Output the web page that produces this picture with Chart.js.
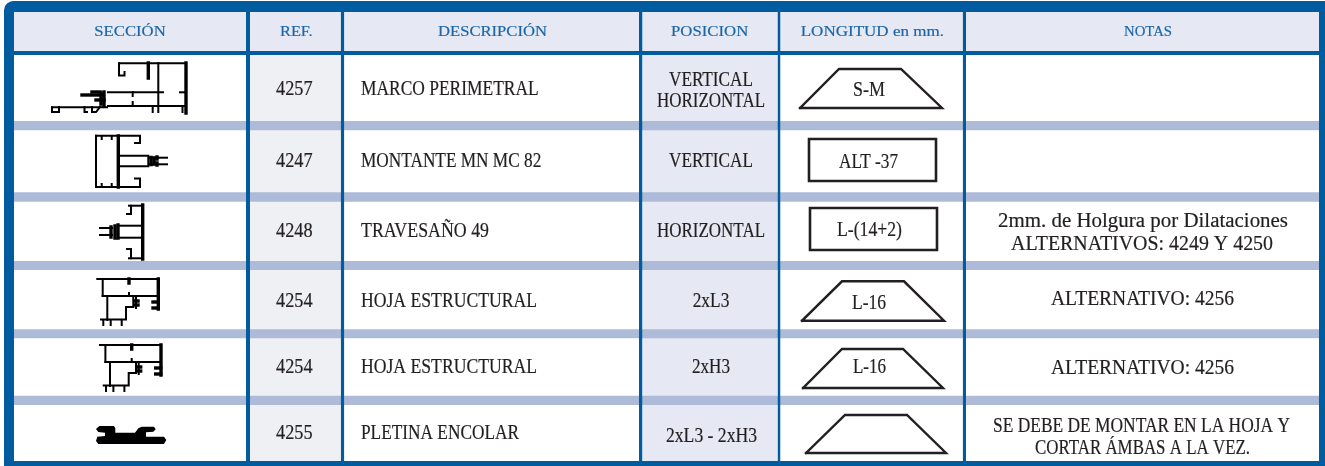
<!DOCTYPE html>
<html><head><meta charset="utf-8">
<style>html,body{margin:0;padding:0;background:#fff;overflow:hidden}canvas{display:block;filter:blur(.3px)}</style>
<script src="https://cdn.jsdelivr.net/npm/chart.js@4"></script></head>
<body><canvas id="c" width="1325" height="466"></canvas>
<script>
// ---- table content ----
const headers = ["SECCIÓN","REF.","DESCRIPCIÓN","POSICION","LONGITUD en mm.","NOTAS"];
const refs = ["4257","4247","4248","4254","4254","4255"];
const descriptions = ["MARCO PERIMETRAL","MONTANTE MN MC 82","TRAVESAÑO 49","HOJA ESTRUCTURAL","HOJA ESTRUCTURAL","PLETINA ENCOLAR"];
const positions = ["VERTICAL","HORIZONTAL","VERTICAL","HORIZONTAL","2xL3","2xH3","2xL3 - 2xH3"];
const lengths = ["S-M","ALT -37","L-(14+2)","L-16","L-16"];
const notes = ["2mm. de Holgura por Dilataciones","ALTERNATIVOS: 4249 Y 4250","ALTERNATIVO: 4256","ALTERNATIVO: 4256","SE DEBE DE MONTAR EN LA HOJA Y","CORTAR ÁMBAS A LA VEZ."];

// ---- layout in scale units (x from, x to, baseline) ----
const headerSpans = [[94.3,165.7,36],[280,312.7,36],[438,547,36],[671,748.3,36],[800.7,944,36],[1124,1172,36]];
const refSpans = [[276,312.5,95],[276,312.5,166.7],[276,312.5,236.7],[276,312.5,306.7],[276,312.5,372.7],[276,312.5,439.3]];
const descSpans = [[361,538.7,95],[361,541.3,166.7],[361,489,236.7],[361,537,306.7],[361,537,372.7],[361,519,439.3]];
const posSpans = [[669,753,86],[657,765,107],[669,753,167],[657,765,237],[692.7,729.3,307],[692,730,373],[666,757,441.7]];
const lenSpans = [[853,885,96],[839,898,168],[837,902,236],[852,886,308.7],[853,886,373]];
const noteSpans = [[998,1288,227],[1011,1273,250],[1051,1234,305],[1051,1234,374],[993,1290,431.7],[1035,1250,454]];
const columnRules = [[246,250],[340.7,344.3],[639,642.5],[777.5,780.5],[962.7,966]];
const rowBands = [[121,130.3],[192.3,201.7],[261,270],[329.3,338.3],[395.7,405]];
const trapezoids = [[800,839,901,942,69,108],[802,842,904,944,281.3,320.7],[803,842,903,943,349,388],[806,845,907,946,415,453]];
const boxes = [[809,936,139,181],[810,937,208,250]];

// ---- section drawings, polylines in scale units ----
const section4257 = {
  thin:[[[119,63.3],[186,63.3]],[[119,63.3],[119,75.5],[124.5,75.5],[124.5,72]],[[158.3,63],[158.3,112]],[[108,92.3],[163,92.3]],[[180,92.3],[186,92.3]],[[108,106],[185,106]],[[132.7,92],[132.7,96]],[[132.7,102],[132.7,106]],[[152.7,106],[152.7,112]],[[182.5,106],[182.5,112]],[[52,107.3],[107,107.3]],[[52,107.3],[52,112],[59,112],[59,107]],[[84.5,107],[84.5,112],[87,112]],[[92,107],[92,112],[96,112],[100,107]]],
  thick:[[[186,63],[186,113]],[[148.3,63],[148.3,78]],[[104,92],[104,106]],[[101,93],[101,104]],[[82,95],[102,95]],[[92,92],[100,92]],[[96,100],[104,100]]]
};
const section4247 = {
  thin:[[[96,135.7],[140,135.7],[140,143],[135,143]],[[96,187],[140,187],[140,178.5],[135,178.5]],[[96,135.7],[96,187]],[[118,155.7],[148.3,155.7],[148.3,166.3],[118,166.3]],[[101.7,136],[101.7,139]],[[111.7,136],[111.7,139]],[[101.7,184],[101.7,187]],[[111.7,184],[111.7,187]],[[150,157.7],[167,157.7]],[[150,164.3],[167,164.3]]],
  thick:[[[118.3,136],[118.3,187]],[[151,157.5],[151,164.5]],[[154,158],[154,164]],[[157,157],[157,159]],[[157,163],[157,165]]]
};
const section4248 = {
  thin:[[[129,205.7],[142.7,205.7]],[[131,205.7],[131,214],[127,214]],[[129,258.3],[142.7,258.3]],[[131,258.3],[131,249],[127,249]],[[120,225.7],[142,225.7]],[[120,237.7],[142,237.7]],[[100,228],[112,228]],[[100,235],[112,235]]],
  thick:[[[142.7,205],[142.7,259]],[[118,225],[118,238]],[[115,226],[115,238]],[[111,227],[111,237]]]
};
const section4254 = {
  thin:[[[97.3,279],[158.3,279]],[[102.7,279],[102.7,296]],[[102.7,296],[158.3,296]],[[107.3,296],[107.3,320]],[[133.3,296],[133.3,307],[126,307],[126,319.5],[101,319.5]],[[103.3,320],[103.3,325]],[[110.7,320],[110.7,325]],[[121.7,320],[121.7,325]],[[129,293],[129,296]],[[136,298],[136,308]]],
  thick:[[[158.3,279],[158.3,309]],[[129,279],[129,283]],[[153,302],[158,302]],[[153,308],[158,308]],[[135,301],[138,301]],[[135,305],[138,305]]]
};
const section4255 = [[99.3,426],[114,426],[115.3,428.3],[115.3,432.7],[135,432.7],[138.3,428.3],[141.7,426.7],[154,426.7],[155.7,429.3],[153.3,431.7],[146,432.3],[146,436.7],[164,436.7],[166.3,440],[164,444],[98.3,444],[96,441],[97.3,436.7],[105,436],[105,432.7],[98.3,432],[96,429],[99.3,426]];
const shift4254b = [2.7,66];

const BLUE='#005b9f', BAND='#adbad8', HEAD='#e6e9f3', REFBG='#eff0f3', INK='#231f20', HINK='#1b66aa';
const pts = a => a.map(p=>({x:p[0],y:p[1]}));
const layers = [];
const add = d => layers.push(Object.assign({pointRadius:0,showLine:true,borderWidth:0,borderColor:'transparent',fill:false,borderJoinStyle:'miter'},d));
const rect = (x0,x1,y0,y1,c) => add({data:pts([[x0,y0],[x1,y0]]),fill:{value:y1},backgroundColor:c});
const poly = (p,c) => add({data:pts(p),fill:'shape',backgroundColor:c});
const stroke = (p,w,c) => add({data:pts(p),borderWidth:w,borderColor:c,borderCapStyle:'square'});

poly([[4,10],[5,6],[7,3.5],[10,1.7],[13,1],[1325,1],[1325,466],[4,466],[4,10]],BLUE);
rect(14,1319,12,461,'#ffffff');
rect(14,1319,12,51,HEAD);
rect(250,340.7,55,461,REFBG);
rect(642.5,777.5,55,461,HEAD);
rowBands.forEach(b=>rect(14,1319,b[0],b[1],BAND));
rect(14,1319,51,55,BLUE);
columnRules.forEach(r=>rect(r[0],r[1],12,461,BLUE));
trapezoids.forEach(t=>stroke([[t[0],t[5]],[t[1],t[4]],[t[2],t[4]],[t[3],t[5]],[t[0],t[5]]],2.4,'#231f20'));
boxes.forEach(b=>stroke([[b[0],b[2]],[b[1],b[2]],[b[1],b[3]],[b[0],b[3]],[b[0],b[2]]],2.6,'#231f20'));
const drawSection=(s,dx,dy)=>{
  s.thin.forEach(l=>stroke(l.map(p=>[p[0]+dx,p[1]+dy]),2,'#000'));
  s.thick.forEach(l=>stroke(l.map(p=>[p[0]+dx,p[1]+dy]),3.4,'#000'));
};
drawSection(section4257,0,0);
drawSection(section4247,0,0);
drawSection(section4248,0,0);
drawSection(section4254,0,0);
drawSection(section4254,shift4254b[0],shift4254b[1]);
poly(section4255,'#000');
layers.forEach((d,i)=>d.order=layers.length-i);

const textRuns=[];
const put=(list,spans,size,color)=>list.forEach((t,i)=>textRuns.push({t,s:spans[i],size,color}));
put(headers,headerSpans,15.5,HINK);
put(refs,refSpans,20.5,INK);
put(descriptions,descSpans,20.5,INK);
put(positions,posSpans,20.5,INK);
put(lengths,lenSpans,20.5,INK);
put(notes,noteSpans,20.5,INK);

const tablePlugin={id:'tableText',afterDatasetsDraw(chart){
  const {ctx,scales:{x,y}}=chart;
  textRuns.forEach(r=>{
    const x0=x.getPixelForValue(r.s[0]),x1=x.getPixelForValue(r.s[1]),yb=y.getPixelForValue(r.s[2]);
    ctx.save();
    ctx.font=r.size+'px "Liberation Serif"';
    ctx.fillStyle=r.color;ctx.strokeStyle=r.color;ctx.lineWidth=.2;ctx.textAlign='left';ctx.textBaseline='alphabetic';
    const w=ctx.measureText(r.t).width;
    ctx.translate(x0,yb);ctx.scale((x1-x0)/w,1);
    ctx.fillText(r.t,0,0);
    ctx.strokeText(r.t,0,0);
    ctx.restore();
  });
}};

new Chart(document.getElementById('c'),{
  type:'scatter',
  data:{datasets:layers},
  options:{responsive:false,animation:false,layout:{padding:0},
    events:[],
    plugins:{legend:{display:false},tooltip:{enabled:false},title:{display:false}},
    scales:{x:{type:'linear',min:0,max:1325,display:false},y:{type:'linear',min:0,max:466,reverse:true,display:false}}},
  plugins:[tablePlugin]
});
</script></body></html>
